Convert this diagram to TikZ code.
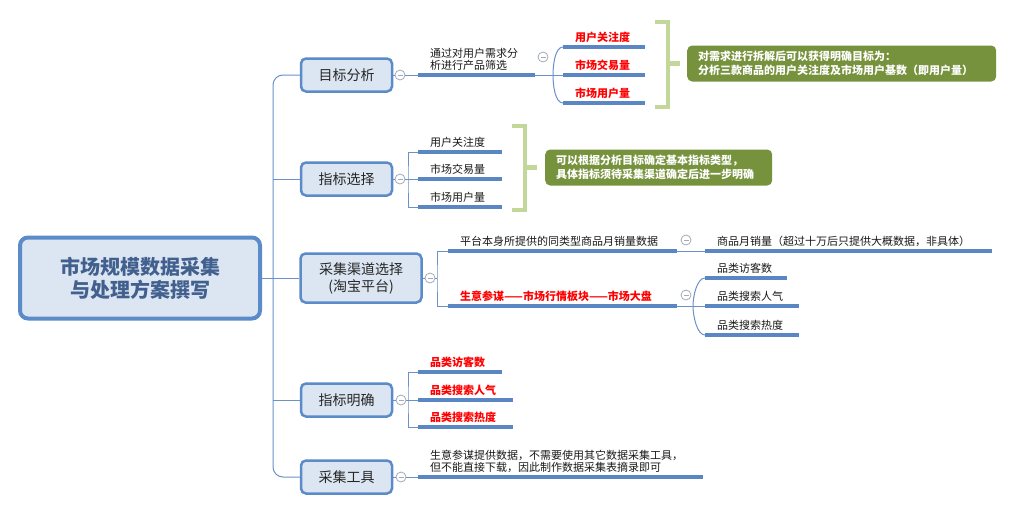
\documentclass[tikz,border=0pt]{standalone}
\usepackage{fontspec}
\setmainfont{Noto Sans CJK SC}
\usepackage{tikz}
\usetikzlibrary{positioning,calc}

\definecolor{boxline}{HTML}{5B8BC9}
\definecolor{boxfill}{HTML}{DCE6F2}
\definecolor{barblue}{HTML}{5A86C4}
\definecolor{linkblue}{HTML}{6A92C8}
\definecolor{roottext}{HTML}{41608E}
\definecolor{notegreen}{HTML}{76923C}
\definecolor{bracegreen}{HTML}{C4D79B}
\definecolor{foldgray}{HTML}{A3ABB8}

\begin{document}
\begin{tikzpicture}[
    x=1pt, y=-1pt,
    root/.style={draw=boxline, fill=boxfill, line width=4pt, rounded corners=8pt,
      minimum width=240pt, minimum height=81pt, align=center, text=roottext,
      font=\fontsize{20}{23}\selectfont\bfseries},
    topic/.style={draw=boxline, fill=boxfill, line width=2.5pt, rounded corners=5pt,
      minimum width=91pt, minimum height=33pt, align=center, text=black!85,
      font=\fontsize{14}{17}\selectfont},
    leaf/.style={anchor=south west, inner xsep=12pt, inner ysep=4pt, text width=#1,
      align=left, text=black!90, font=\fontsize{11}{12.5}\selectfont},
    hot/.style={text=red, font=\fontsize{11}{12.5}\selectfont\bfseries},
    fold/.style={circle, draw=foldgray, fill=white, line width=0.8pt, minimum size=10pt,
      inner sep=0pt, path picture={\draw[foldgray, line width=0.8pt]
        ([xshift=-2.5pt]path picture bounding box.center) --
        ([xshift=2.5pt]path picture bounding box.center);}},
    link/.style={draw=linkblue, line width=1pt},
    bar/.style={draw=barblue, line width=3.5pt},
    brace/.style={draw=bracegreen, line width=4.5pt},
    note/.style={fill=notegreen, rounded corners=5pt, anchor=west, inner xsep=11pt,
      text width=#1, minimum height=36pt, align=left, text=white,
      font=\fontsize{11}{13.5}\selectfont\bfseries}
  ]
  \fill[white] (0,0) rectangle (1014,514);
  \useasboundingbox (0,0) rectangle (1014,514);

  % main topic and branches
  \node[root] (root) at (140,278) {市场规模数据采集\\与处理方案撰写};
  \node[topic] (c1) at (346.5,75) {目标分析};
  \node[topic] (c2) at (346.5,179) {指标选择};
  \node[topic, minimum width=121pt, minimum height=49pt] (c3) at (361,278) {采集渠道选择\\(淘宝平台)};
  \node[topic] (c4) at (346.5,400) {指标明确};
  \node[topic] (c5) at (346.5,477) {采集工具};

  % fold markers
  \node[fold] (f1) at (400,75) {};
  \node[fold] (f2) at (400,179) {};
  \node[fold] (f3) at (430,278) {};
  \node[fold] (f4) at (401,400) {};
  \node[fold] (f5) at (401,477) {};
  \node[fold] (fa) at (543,57) {};
  \node[fold] (fb) at (686,240) {};
  \node[fold] (fc) at (686,295) {};

  % leaves
  \node[leaf=93pt] (g1) at (418,75) {通过对用户需求分\\析进行产品筛选};
  \node[leaf=58pt, hot] (a1) at (563,47) {用户关注度};
  \node[leaf=58pt, hot] (a2) at (563,75) {市场交易量};
  \node[leaf=58pt, hot] (a3) at (563,103) {市场用户量};
  \node[leaf=60pt] (b1) at (418,152) {用户关注度};
  \node[leaf=60pt] (b2) at (418,179) {市场交易量};
  \node[leaf=60pt] (b3) at (418,207) {市场用户量};
  \node[leaf=205pt] (d1) at (448,251) {平台本身所提供的同类型商品月销量数据};
  \node[leaf=205pt, hot] (d2) at (448,306) {生意参谋——市场行情板块——市场大盘};
  \node[leaf=263pt] (e1) at (705,251) {商品月销量（超过十万后只提供大概数据，非具体）};
  \node[leaf=58pt] (e2) at (705,278) {品类访客数};
  \node[leaf=70pt] (e3) at (705,306) {品类搜索人气};
  \node[leaf=70pt] (e4) at (705,335) {品类搜索热度};
  \node[leaf=60pt, hot] (h1) at (418,372) {品类访客数};
  \node[leaf=71pt, hot] (h2) at (418,400) {品类搜索人气};
  \node[leaf=71pt, hot] (h3) at (418,427) {品类搜索热度};
  \node[leaf=261pt] (g5) at (418,477) {生意参谋提供数据，不需要使用其它数据采集工具，\\但不能直接下载，因此制作数据采集表摘录即可};

  % notes
  \node[note=287pt] (n1) at (687,63.5) {对需求进行拆解后可以获得明确目标为：\\分析三款商品的用户关注度及市场用户基数（即用户量）};
  \node[note=205pt] (n2) at (545,167.5) {可以根据分析目标确定基本指标类型，\\具体指标须待采集渠道确定后进一步明确};

  % trunk
  \coordinate (trunk) at (273,278);
  \draw[link] (root.east) -- (c3.west);
  \draw[link, rounded corners=10pt] (c1.west) -| (trunk) |- (c5.west);
  \foreach \c in {c2,c4}
    \draw[link] (trunk |- \c.west) -- (\c.west);

  % branch 1
  \coordinate (k1) at (553,75);
  \draw[link] (c1) -- (f1) -- (g1.south west);
  \draw[link] (g1.south east) -- (a2.south west);
  \draw[link] (a1.south west) .. controls +(-8,0) and +(0,-10) .. (k1)
    .. controls +(0,10) and +(-8,0) .. (a3.south west);

  % branch 2
  \coordinate (k2) at (408,179);
  \draw[link] (c2) -- (f2) -- (k2);
  \draw[link] (b1.south west) -| (k2) |- (b3.south west);
  \draw[link] (k2) -- (b2.south west);

  % branch 3
  \coordinate (k3) at (437,278);
  \coordinate (k4) at (693,306);
  \draw[link] (c3) -- (f3) -- (k3);
  \draw[link] (d1.south west) -| (k3) |- (d2.south west);
  \draw[link] (d1.south east) -- (e1.south west);
  \draw[link] (d2.south east) -- (e3.south west);
  \draw[link] (e2.south west) .. controls +(-8,0) and +(0,-10) .. (k4)
    .. controls +(0,10) and +(-8,0) .. (e4.south west);

  % branch 4
  \coordinate (k5) at (408,400);
  \draw[link] (c4) -- (f4) -- (k5);
  \draw[link] (h1.south west) -| (k5) |- (h3.south west);
  \draw[link] (k5) -- (h2.south west);

  % branch 5
  \draw[link] (c5) -- (f5) -- (g5.south west);

  % underline bars
  \foreach \n in {g1,a1,a2,a3,b1,b2,b3,d1,d2,e1,e2,e3,e4,h1,h2,h3,g5}
    \draw[bar] (\n.south west) -- (\n.south east);

  % braces
  \draw[brace] (655,22) -- (668,22) -- (668,107) -- (655,107);
  \draw[brace] (668,63.5) -- (680,63.5);
  \draw[brace] (512,126) -- (525,126) -- (525,210) -- (512,210);
  \draw[brace] (525,167.5) -- (537,167.5);
\end{tikzpicture}
\end{document}
